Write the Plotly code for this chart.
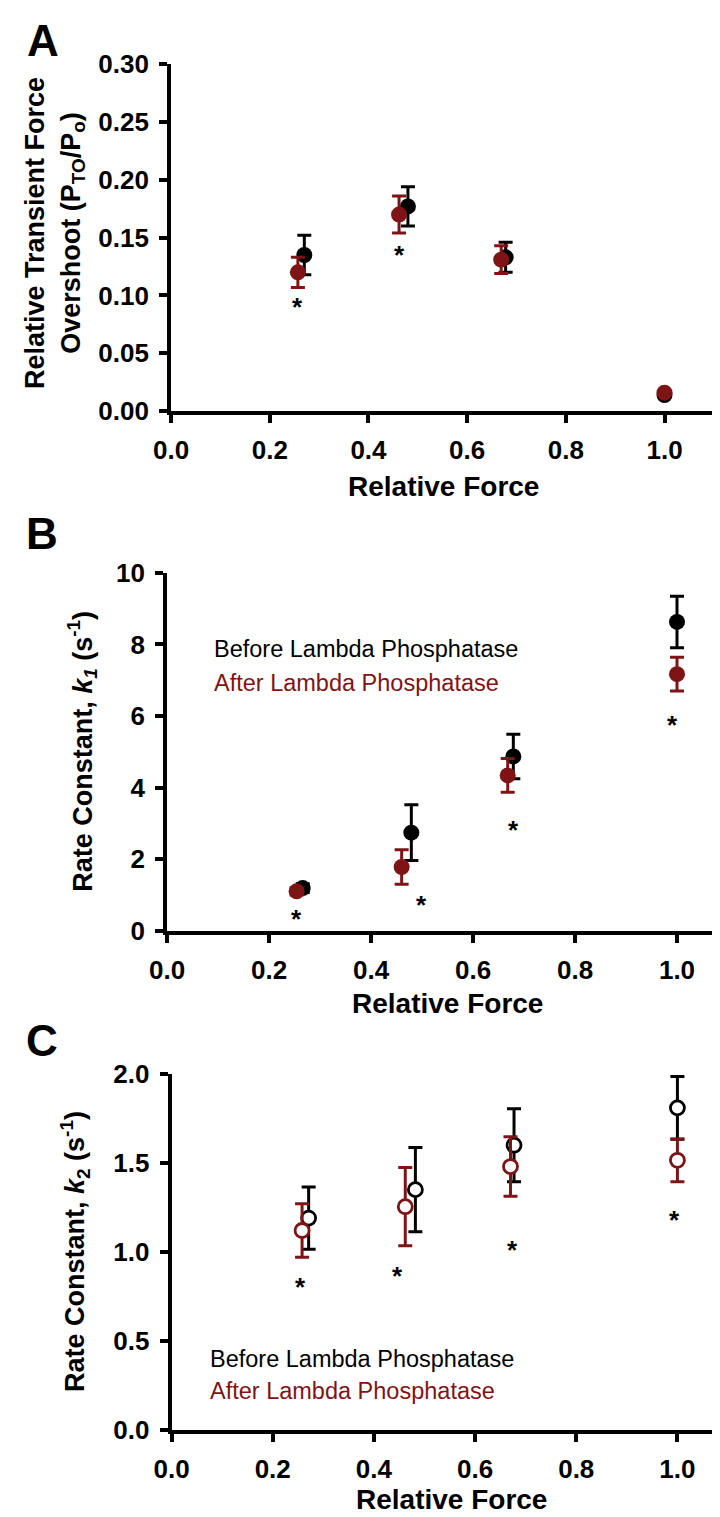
import plotly.graph_objects as go

W, H = 720, 1517
BLACK = "#000000"
RED = "#7f1416"

# ---------------- data ----------------
# Panel A : relative transient force overshoot
a_before_x = [0.270, 0.480, 0.678, 1.0]
a_before_y = [0.135, 0.177, 0.133, 0.014]
a_before_err = [0.017, 0.017, 0.013, 0.0]
a_after_x = [0.257, 0.462, 0.669, 1.0]
a_after_y = [0.120, 0.170, 0.131, 0.016]
a_after_err = [0.013, 0.016, 0.012, 0.0]
a_star_x = [0.257, 0.462]
a_star_y = [0.094, 0.139]

# Panel B : rate constant k1
b_before_x = [0.266, 0.479, 0.679, 1.0]
b_before_y = [1.19, 2.74, 4.87, 8.63]
b_before_err = [0.12, 0.78, 0.62, 0.72]
b_after_x = [0.254, 0.460, 0.668, 1.0]
b_after_y = [1.10, 1.78, 4.34, 7.17]
b_after_err = [0.10, 0.48, 0.47, 0.47]
b_star_x = [0.254, 0.498, 0.680, 0.992]
b_star_y = [0.46, 0.85, 2.95, 5.89]

# Panel C : rate constant k2
c_before_x = [0.271, 0.482, 0.677, 1.0]
c_before_y = [1.19, 1.35, 1.60, 1.81]
c_before_err = [0.175, 0.237, 0.205, 0.177]
c_after_x = [0.258, 0.462, 0.670, 1.0]
c_after_y = [1.12, 1.254, 1.48, 1.515]
c_after_err = [0.15, 0.22, 0.167, 0.12]
c_star_x = [0.255, 0.446, 0.674, 0.995]
c_star_y = [0.83, 0.89, 1.04, 1.21]

x_ticks = [0.0, 0.2, 0.4, 0.6, 0.8, 1.0]
x_tick_text = ["0.0", "0.2", "0.4", "0.6", "0.8", "1.0"]
a_y_ticks = [0.00, 0.05, 0.10, 0.15, 0.20, 0.25, 0.30]
a_y_text = ["0.00", "0.05", "0.10", "0.15", "0.20", "0.25", "0.30"]
b_y_ticks = [0, 2, 4, 6, 8, 10]
b_y_text = ["0", "2", "4", "6", "8", "10"]
c_y_ticks = [0.0, 0.5, 1.0, 1.5, 2.0]
c_y_text = ["0.0", "0.5", "1.0", "1.5", "2.0"]

legend_labels = ["Before Lambda Phosphatase", "After Lambda Phosphatase"]

# ---------------- helpers ----------------
def px_x(p):
    return p / W

def px_y(p):
    return 1 - p / H

FONT = "Arial, Liberation Sans, Helvetica, sans-serif"

fig = go.Figure()


def add_series(xs, ys, errs, color, xa, ya, open_marker=False):
    marker = dict(size=16, color=color, line=dict(width=0, color=color))
    if open_marker:
        marker = dict(size=14, color="white", line=dict(width=2.8, color=color))
    fig.add_trace(go.Scatter(
        x=xs, y=ys, mode="markers", xaxis=xa, yaxis=ya,
        marker=marker,
        error_y=dict(type="data", array=errs, visible=True, color=color,
                     thickness=3, width=7),
        showlegend=False, hoverinfo="skip",
    ))


add_series(a_before_x, a_before_y, a_before_err, BLACK, "x", "y")
add_series(a_after_x, a_after_y, a_after_err, RED, "x", "y")
add_series(b_before_x, b_before_y, b_before_err, BLACK, "x2", "y2")
add_series(b_after_x, b_after_y, b_after_err, RED, "x2", "y2")
add_series(c_before_x, c_before_y, c_before_err, BLACK, "x3", "y3", open_marker=True)
add_series(c_after_x, c_after_y, c_after_err, RED, "x3", "y3", open_marker=True)

axis_common = dict(
    showline=True, linewidth=4, linecolor="black", mirror=False,
    ticks="outside", ticklen=8, tickwidth=4, tickcolor="black",
    showgrid=False, zeroline=False, ticklabelstandoff=5,
    tickfont=dict(family=FONT, size=26, color="black", weight="bold"),
)

layout = dict(
    width=W, height=H,
    margin=dict(l=0, r=0, t=0, b=0),
    paper_bgcolor="white", plot_bgcolor="white",
    font=dict(family=FONT, color="black"),
    showlegend=False,
)

# Panel A axes
layout["xaxis"] = dict(axis_common, domain=[px_x(148.8), px_x(705.5)], range=[0, 1.1],
                       anchor="y", tickvals=x_ticks, ticktext=x_tick_text)
layout["yaxis"] = dict(axis_common, domain=[px_y(396), px_y(42)], range=[0, 0.30],
                       anchor="x", tickvals=a_y_ticks, ticktext=a_y_text)
# Panel B axes
layout["xaxis2"] = dict(axis_common, domain=[px_x(144.7), 1.0], range=[0, 1.1],
                        anchor="y2", tickvals=x_ticks, ticktext=x_tick_text)
layout["yaxis2"] = dict(axis_common, domain=[px_y(926), px_y(561)], range=[0, 10],
                        anchor="x2", tickvals=b_y_ticks, ticktext=b_y_text)
# Panel C axes
layout["xaxis3"] = dict(axis_common, domain=[px_x(149.3), 1.0], range=[0, 1.1],
                        anchor="y3", tickvals=x_ticks, ticktext=x_tick_text)
layout["yaxis3"] = dict(axis_common, domain=[px_y(1435), px_y(1072.3)], range=[0, 2.0],
                        anchor="x3", tickvals=c_y_ticks, ticktext=c_y_text)

fig.update_layout(**layout)

ann = []

def text_px(x, y, text, size, color="black", bold=True, angle=0, xanchor="center"):
    ann.append(dict(
        x=px_x(x), y=px_y(y), xref="paper", yref="paper", text=text,
        showarrow=False, textangle=angle, xanchor=xanchor, yanchor="middle",
        font=dict(family=FONT, size=size, color=color, weight="bold" if bold else "normal"),
    ))

# panel letters
text_px(17, 18, "A", 44)
text_px(16, 521, "B", 44)
text_px(16, 1038, "C", 44)

# axis titles
text_px(30, 214, "Relative Transient Force<br>Overshoot (P<sub>TO</sub>/P<sub>o</sub>)", 27, angle=-90)
text_px(58, 743, "Rate Constant, <i>k</i><sub><i>1</i></sub> (s<sup>-1</sup>)", 27, angle=-90)
text_px(50, 1253, "Rate Constant, <i>k</i><sub>2</sub> (s<sup>-1</sup>)", 27, angle=-90)
text_px(428, 473, "Relative Force", 28)
text_px(432, 1000, "Relative Force", 28)
text_px(436, 1506, "Relative Force", 28)

# in-plot legends
text_px(191, 639, legend_labels[0], 23.5, color=BLACK, bold=False, xanchor="left")
text_px(191, 673, legend_labels[1], 23.5, color=RED, bold=False, xanchor="left")
text_px(187, 1363, legend_labels[0], 23.5, color=BLACK, bold=False, xanchor="left")
text_px(187, 1396, legend_labels[1], 23.5, color=RED, bold=False, xanchor="left")

# significance asterisks (data coordinates)
for xs, ys, xr, yr in [(a_star_x, a_star_y, "x", "y"),
                       (b_star_x, b_star_y, "x2", "y2"),
                       (c_star_x, c_star_y, "x3", "y3")]:
    for sx, sy in zip(xs, ys):
        ann.append(dict(x=sx, y=sy, xref=xr, yref=yr, text="*", showarrow=False,
                        xanchor="center", yanchor="middle", yshift=-5,
                        font=dict(family=FONT, size=26, color="black", weight="bold")))

fig.update_layout(annotations=ann)

fig.write_html("out.html")
